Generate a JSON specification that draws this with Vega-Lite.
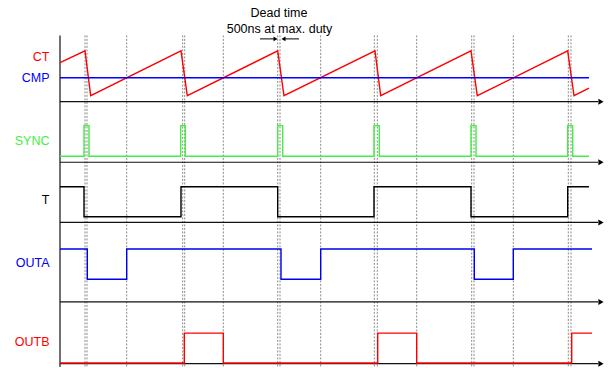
{
  "$schema": "https://vega.github.io/schema/vega-lite/v6.json",
  "width": 614,
  "height": 368,
  "padding": 0,
  "autosize": {"type": "fit", "contains": "padding"},
  "background": "white",
  "config": {"view": {"stroke": null}},
  "datasets": {
    "signals": [
      {"s": "CT", "i": 0, "t": 60, "v": 62.7},
      {"s": "CT", "i": 1, "t": 85, "v": 51},
      {"s": "CT", "i": 2, "t": 90.7, "v": 96},
      {"s": "CT", "i": 3, "t": 181, "v": 51},
      {"s": "CT", "i": 4, "t": 187.3, "v": 96},
      {"s": "CT", "i": 5, "t": 277.7, "v": 51},
      {"s": "CT", "i": 6, "t": 284, "v": 96},
      {"s": "CT", "i": 7, "t": 375, "v": 51},
      {"s": "CT", "i": 8, "t": 380.7, "v": 96},
      {"s": "CT", "i": 9, "t": 471, "v": 51},
      {"s": "CT", "i": 10, "t": 477.3, "v": 96},
      {"s": "CT", "i": 11, "t": 567.7, "v": 51},
      {"s": "CT", "i": 12, "t": 574, "v": 96},
      {"s": "CT", "i": 13, "t": 589, "v": 88.3},
      {"s": "CMP", "i": 0, "t": 60, "v": 78},
      {"s": "CMP", "i": 1, "t": 589, "v": 78},
      {"s": "SYNC", "i": 0, "t": 60, "v": 156.7},
      {"s": "SYNC", "i": 1, "t": 84, "v": 156.7},
      {"s": "SYNC", "i": 2, "t": 84, "v": 126},
      {"s": "SYNC", "i": 3, "t": 89, "v": 126},
      {"s": "SYNC", "i": 4, "t": 89, "v": 156.7},
      {"s": "SYNC", "i": 5, "t": 180.7, "v": 156.7},
      {"s": "SYNC", "i": 6, "t": 180.7, "v": 126},
      {"s": "SYNC", "i": 7, "t": 185.3, "v": 126},
      {"s": "SYNC", "i": 8, "t": 185.3, "v": 156.7},
      {"s": "SYNC", "i": 9, "t": 277.7, "v": 156.7},
      {"s": "SYNC", "i": 10, "t": 277.7, "v": 126},
      {"s": "SYNC", "i": 11, "t": 282.7, "v": 126},
      {"s": "SYNC", "i": 12, "t": 282.7, "v": 156.7},
      {"s": "SYNC", "i": 13, "t": 374, "v": 156.7},
      {"s": "SYNC", "i": 14, "t": 374, "v": 126},
      {"s": "SYNC", "i": 15, "t": 379.3, "v": 126},
      {"s": "SYNC", "i": 16, "t": 379.3, "v": 156.7},
      {"s": "SYNC", "i": 17, "t": 471, "v": 156.7},
      {"s": "SYNC", "i": 18, "t": 471, "v": 126},
      {"s": "SYNC", "i": 19, "t": 476, "v": 126},
      {"s": "SYNC", "i": 20, "t": 476, "v": 156.7},
      {"s": "SYNC", "i": 21, "t": 567.7, "v": 156.7},
      {"s": "SYNC", "i": 22, "t": 567.7, "v": 126},
      {"s": "SYNC", "i": 23, "t": 572.7, "v": 126},
      {"s": "SYNC", "i": 24, "t": 572.7, "v": 156.7},
      {"s": "SYNC", "i": 25, "t": 589, "v": 156.7},
      {"s": "T", "i": 0, "t": 60, "v": 187.3},
      {"s": "T", "i": 1, "t": 84, "v": 187.3},
      {"s": "T", "i": 2, "t": 84, "v": 217.3},
      {"s": "T", "i": 3, "t": 181, "v": 217.3},
      {"s": "T", "i": 4, "t": 181, "v": 187.3},
      {"s": "T", "i": 5, "t": 277.7, "v": 187.3},
      {"s": "T", "i": 6, "t": 277.7, "v": 217.3},
      {"s": "T", "i": 7, "t": 374, "v": 217.3},
      {"s": "T", "i": 8, "t": 374, "v": 187.3},
      {"s": "T", "i": 9, "t": 471, "v": 187.3},
      {"s": "T", "i": 10, "t": 471, "v": 217.3},
      {"s": "T", "i": 11, "t": 567.7, "v": 217.3},
      {"s": "T", "i": 12, "t": 567.7, "v": 187.3},
      {"s": "T", "i": 13, "t": 589, "v": 187.3},
      {"s": "OUTA", "i": 0, "t": 60, "v": 249.7},
      {"s": "OUTA", "i": 1, "t": 87.3, "v": 249.7},
      {"s": "OUTA", "i": 2, "t": 87.3, "v": 280},
      {"s": "OUTA", "i": 3, "t": 126.7, "v": 280},
      {"s": "OUTA", "i": 4, "t": 126.7, "v": 249.7},
      {"s": "OUTA", "i": 5, "t": 281, "v": 249.7},
      {"s": "OUTA", "i": 6, "t": 281, "v": 280},
      {"s": "OUTA", "i": 7, "t": 320.7, "v": 280},
      {"s": "OUTA", "i": 8, "t": 320.7, "v": 249.7},
      {"s": "OUTA", "i": 9, "t": 474.3, "v": 249.7},
      {"s": "OUTA", "i": 10, "t": 474.3, "v": 280},
      {"s": "OUTA", "i": 11, "t": 513.3, "v": 280},
      {"s": "OUTA", "i": 12, "t": 513.3, "v": 249.7},
      {"s": "OUTA", "i": 13, "t": 592, "v": 249.7},
      {"s": "OUTB", "i": 0, "t": 60, "v": 364},
      {"s": "OUTB", "i": 1, "t": 184.3, "v": 364},
      {"s": "OUTB", "i": 2, "t": 184.3, "v": 334},
      {"s": "OUTB", "i": 3, "t": 223.3, "v": 334},
      {"s": "OUTB", "i": 4, "t": 223.3, "v": 364},
      {"s": "OUTB", "i": 5, "t": 377.7, "v": 364},
      {"s": "OUTB", "i": 6, "t": 377.7, "v": 334},
      {"s": "OUTB", "i": 7, "t": 416.7, "v": 334},
      {"s": "OUTB", "i": 8, "t": 416.7, "v": 364},
      {"s": "OUTB", "i": 9, "t": 571.7, "v": 364},
      {"s": "OUTB", "i": 10, "t": 571.7, "v": 334},
      {"s": "OUTB", "i": 11, "t": 592, "v": 334}
    ],
    "markers": [
      {"t": 85}, {"t": 87}, {"t": 126.7}, {"t": 182.7}, {"t": 184.7}, {"t": 223.3},
      {"t": 277.7}, {"t": 280}, {"t": 320.7}, {"t": 374.3}, {"t": 377.3}, {"t": 416.7},
      {"t": 471.7}, {"t": 474}, {"t": 513.3}, {"t": 568.3}, {"t": 571}
    ],
    "baselines": [
      {"v": 102}, {"v": 162.7}, {"v": 223}, {"v": 302.7}, {"v": 364.7}
    ],
    "labels": [
      {"s": "CT", "name": "CT", "v": 57},
      {"s": "CMP", "name": "CMP", "v": 78},
      {"s": "SYNC", "name": "SYNC", "v": 141},
      {"s": "T", "name": "T", "v": 201},
      {"s": "OUTA", "name": "OUTA", "v": 264},
      {"s": "OUTB", "name": "OUTB", "v": 343}
    ],
    "notes": [
      {"txt": "Dead time", "t": 279, "v": 13.5},
      {"txt": "500ns at max. duty", "t": 279.5, "v": 29}
    ],
    "deadarrows": [
      {"t": 260, "t2": 275, "tip": 275.5, "shape": "triangle-right"},
      {"t": 284, "t2": 299, "tip": 283.5, "shape": "triangle-left"}
    ]
  },
  "layer": [
    {
      "data": {"name": "markers"},
      "mark": {"type": "rule", "color": "#8a8a8a", "strokeWidth": 1, "strokeDash": [2, 1.5]},
      "encoding": {
        "x": {"field": "t", "type": "quantitative", "scale": {"domain": [0, 614], "nice": false, "zero": false}, "axis": null},
        "y": {"datum": 35.5, "type": "quantitative", "scale": {"domain": [0, 368], "nice": false, "zero": false, "reverse": true}, "axis": null},
        "y2": {"datum": 368}
      }
    },
    {
      "data": {"name": "baselines"},
      "mark": {"type": "rule", "color": "#111111", "strokeWidth": 1.2},
      "encoding": {
        "x": {"datum": 60, "type": "quantitative"},
        "x2": {"datum": 598},
        "y": {"field": "v", "type": "quantitative"}
      }
    },
    {
      "data": {"name": "baselines"},
      "mark": {"type": "point", "shape": "triangle-right", "filled": true, "color": "#000000", "size": 36, "opacity": 1},
      "encoding": {
        "x": {"datum": 601, "type": "quantitative"},
        "y": {"field": "v", "type": "quantitative"}
      }
    },
    {
      "data": {"values": [{"k": 1}]},
      "mark": {"type": "rule", "color": "#111111", "strokeWidth": 1.2},
      "encoding": {
        "x": {"datum": 60, "type": "quantitative"},
        "y": {"datum": 35.5, "type": "quantitative"},
        "y2": {"datum": 368}
      }
    },
    {
      "data": {"name": "signals"},
      "mark": {"type": "line", "strokeWidth": 1.4, "interpolate": "linear"},
      "encoding": {
        "x": {"field": "t", "type": "quantitative"},
        "y": {"field": "v", "type": "quantitative"},
        "order": {"field": "i", "type": "quantitative"},
        "color": {
          "field": "s", "type": "nominal", "legend": null,
          "scale": {"domain": ["CT", "CMP", "SYNC", "T", "OUTA", "OUTB"], "range": ["#ff0000", "#0000ff", "#44ee44", "#000000", "#0000ee", "#ff0000"]}
        }
      }
    },
    {
      "data": {"name": "labels"},
      "mark": {"type": "text", "align": "right", "baseline": "middle", "font": "Liberation Sans", "fontSize": 12.5},
      "encoding": {
        "x": {"datum": 49.5, "type": "quantitative"},
        "y": {"field": "v", "type": "quantitative"},
        "text": {"field": "name"},
        "color": {"field": "s", "type": "nominal", "legend": null}
      }
    },
    {
      "data": {"name": "notes"},
      "mark": {"type": "text", "align": "center", "baseline": "middle", "font": "Liberation Sans", "fontSize": 12.5, "color": "#000000"},
      "encoding": {
        "x": {"field": "t", "type": "quantitative"},
        "y": {"field": "v", "type": "quantitative"},
        "text": {"field": "txt"}
      }
    },
    {
      "data": {"name": "deadarrows"},
      "mark": {"type": "rule", "color": "#000000", "strokeWidth": 1},
      "encoding": {
        "x": {"field": "t", "type": "quantitative"},
        "x2": {"field": "t2"},
        "y": {"datum": 39, "type": "quantitative"}
      }
    },
    {
      "data": {"name": "deadarrows"},
      "mark": {"type": "point", "filled": true, "color": "#000000", "size": 22, "opacity": 1},
      "encoding": {
        "x": {"field": "tip", "type": "quantitative"},
        "y": {"datum": 39, "type": "quantitative"},
        "shape": {"field": "shape", "type": "nominal", "scale": null}
      }
    }
  ]
}
